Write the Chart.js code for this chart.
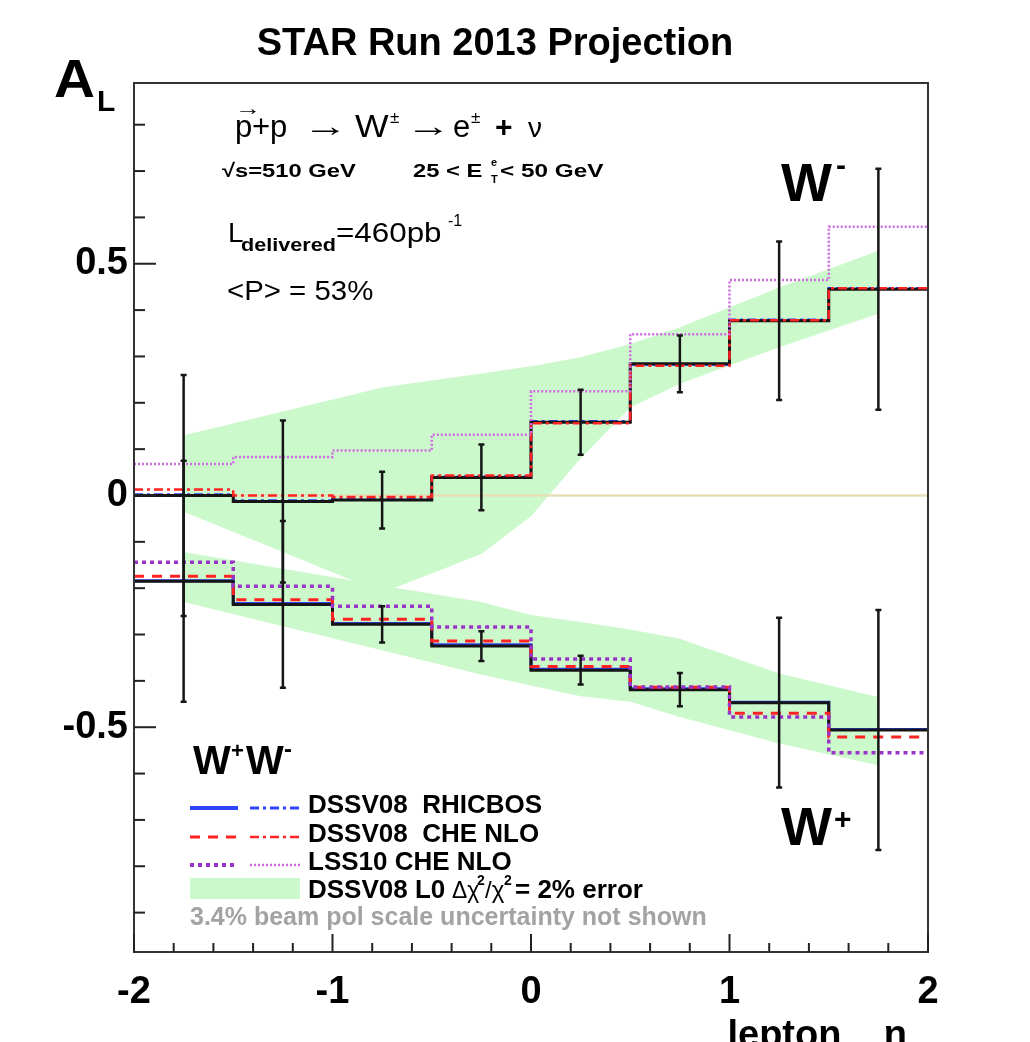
<!DOCTYPE html>
<html><head><meta charset="utf-8">
<script src="https://cdn.jsdelivr.net/npm/chart.js@4/dist/chart.umd.min.js"></script>
<style>html,body{margin:0;padding:0;background:#fff;}canvas{display:block;}</style>
</head><body>
<canvas id="c" width="1030" height="1042"></canvas>
<script>
// ---------- data ----------
const binEdges   = [-2, -1.5, -1, -0.5, 0, 0.5, 1, 1.5, 2];
const binCenters = [-1.75, -1.25, -0.75, -0.25, 0.25, 0.75, 1.25, 1.75];

const wMinusData = [0.000, -0.013, -0.010, 0.039, 0.158, 0.284, 0.377, 0.445];
const wMinusErr  = [0.260, 0.175, 0.061, 0.071, 0.070, 0.061, 0.171, 0.260];
const wPlusData  = [-0.185, -0.235, -0.278, -0.325, -0.377, -0.419, -0.447, -0.506];
const wPlusErr   = [0.260, 0.180, 0.039, 0.032, 0.031, 0.036, 0.183, 0.259];

const rhicbosWMinus = [0.002, -0.011, -0.008, 0.041, 0.160, 0.282, 0.379, 0.447];
const rhicbosWPlus  = [-0.184, -0.233, -0.276, -0.322, -0.375, -0.417, -0.446, -0.505];
const cheWMinus     = [0.013, 0.000, -0.003, 0.043, 0.156, 0.280, 0.378, 0.447];
const cheWPlus      = [-0.174, -0.225, -0.267, -0.314, -0.369, -0.414, -0.470, -0.521];
const lssWMinus     = [0.068, 0.083, 0.097, 0.131, 0.225, 0.348, 0.465, 0.580];
const lssWPlus      = [-0.144, -0.196, -0.239, -0.284, -0.353, -0.413, -0.478, -0.555];

const bandEta       = [-1.75, -1.25, -0.75, -0.25, 0, 0.25, 0.5, 0.75, 1.25, 1.75];
const wMinusBandHi  = [0.130, 0.181, 0.233, 0.263, 0.279, 0.298, 0.327, 0.363, 0.449, 0.528];
const wMinusBandLo  = [-0.035, -0.122, -0.210, -0.126, -0.045, 0.080, 0.190, 0.241, 0.320, 0.392];
const wPlusBandHi   = [-0.122, -0.158, -0.194, -0.230, -0.258, -0.273, -0.289, -0.309, -0.384, -0.435];
const wPlusBandLo   = [-0.230, -0.282, -0.334, -0.387, -0.410, -0.433, -0.445, -0.478, -0.535, -0.582];

const xTickValues = [-2, -1, 0, 1, 2];
const xTickLabels = ['-2', '-1', '0', '1', '2'];
const yTickValues = [-0.5, 0, 0.5];
const yTickLabels = ['-0.5', '0', '0.5'];
const xMinorTicks = [-2, -1.8, -1.6, -1.4, -1.2, -1, -0.8, -0.6, -0.4, -0.2, 0, 0.2, 0.4, 0.6, 0.8, 1, 1.2, 1.4, 1.6, 1.8, 2];
const yMinorTicks = [-0.9, -0.8, -0.7, -0.6, -0.5, -0.4, -0.3, -0.2, -0.1, 0, 0.1, 0.2, 0.3, 0.4, 0.5, 0.6, 0.7, 0.8];

const legendLabels = ['DSSV08  RHICBOS', 'DSSV08  CHE NLO', 'LSS10 CHE NLO'];

// ---------- helpers ----------
const FAM = "'Liberation Sans', Arial, 'DejaVu Sans', sans-serif";
const C_BLUE = '#2f43ff', C_RED = '#ff2222', C_PURP = '#9a33c8', C_PURP2 = '#cf6ae0', C_BAND = '#ccf9cc';

function stepPoints(vals) {
  const pts = vals.map((v, i) => ({ x: binEdges[i], y: v }));
  pts.push({ x: binEdges[binEdges.length - 1], y: vals[vals.length - 1] });
  return pts;
}
function bandPoints(vals) { return vals.map((v, i) => ({ x: bandEta[i], y: v })); }

function stepDS(vals, color, width, dash, order) {
  return { data: stepPoints(vals), borderColor: color, borderWidth: width, borderDash: dash,
           stepped: true, pointRadius: 0, fill: false, order: order };
}

function T(ctx, s, x, y, size, o = {}) {
  ctx.save();
  ctx.font = `${o.weight || 'normal'} ${size}px ${FAM}`;
  ctx.fillStyle = o.color || '#000';
  ctx.textAlign = o.align || 'left';
  ctx.textBaseline = 'alphabetic';
  ctx.translate(x, y);
  ctx.scale(o.sx || 1, 1);
  if (o.maxW) ctx.fillText(s, 0, 0, o.maxW); else ctx.fillText(s, 0, 0);
  ctx.restore();
}

// ---------- plugins ----------
const errorBars = {
  id: 'errorBars',
  afterDatasetsDraw(chart) {
    const { ctx, scales: { x, y } } = chart;
    ctx.save();
    ctx.strokeStyle = '#151515';
    ctx.lineWidth = 2.5;
    [[wMinusData, wMinusErr], [wPlusData, wPlusErr]].forEach(([v, e]) => {
      binCenters.forEach((c, i) => {
        const px = x.getPixelForValue(c);
        const y1 = y.getPixelForValue(v[i] + e[i]);
        const y2 = y.getPixelForValue(v[i] - e[i]);
        ctx.beginPath(); ctx.moveTo(px, y1); ctx.lineTo(px, y2); ctx.stroke();
        ctx.beginPath();
        ctx.moveTo(px - 3, y1); ctx.lineTo(px + 3, y1);
        ctx.moveTo(px - 3, y2); ctx.lineTo(px + 3, y2);
        ctx.stroke();
      });
    });
    ctx.restore();
  }
};

const frameTicks = {
  id: 'frameTicks',
  afterDraw(chart) {
    const { ctx, chartArea: a, scales: { x, y } } = chart;
    ctx.save();
    ctx.strokeStyle = '#333';
    ctx.lineWidth = 2;
    ctx.strokeRect(a.left, a.top, a.right - a.left, a.bottom - a.top);
    ctx.strokeStyle = '#222';
    yMinorTicks.forEach(v => {
      const py = y.getPixelForValue(v);
      const len = yTickValues.includes(v) ? 22 : 11;
      ctx.beginPath(); ctx.moveTo(a.left, py); ctx.lineTo(a.left + len, py); ctx.stroke();
    });
    xMinorTicks.forEach(v => {
      const px = x.getPixelForValue(v);
      const len = xTickValues.includes(v) ? 18 : 9;
      ctx.beginPath(); ctx.moveTo(px, a.bottom); ctx.lineTo(px, a.bottom - len); ctx.stroke();
    });
    ctx.restore();
  }
};

const texts = {
  id: 'texts',
  afterDraw(chart) {
    const ctx = chart.ctx;
    // title and y label
    T(ctx, 'STAR Run 2013 Projection', 495, 55, 38, { weight: 'bold', align: 'center', maxW: 492 });
    T(ctx, 'A', 54, 97, 54, { weight: 'bold', sx: 1.05 });
    T(ctx, 'L', 97, 111, 30, { weight: 'bold' });

    // reaction line
    T(ctx, 'p', 235, 137, 31);
    T(ctx, '→', 235, 115, 20, { sx: 1.3 });
    T(ctx, '+p', 252, 137, 31);
    T(ctx, '→', 303, 136, 30, { sx: 1.5 });
    T(ctx, 'W', 355, 137, 31, { sx: 1.15 });
    T(ctx, '±', 390, 123, 17);
    T(ctx, '→', 406, 136, 30, { sx: 1.5 });
    T(ctx, 'e', 453, 137, 31);
    T(ctx, '±', 471, 123, 17);
    T(ctx, '+', 495, 137, 30, { weight: 'bold' });
    T(ctx, 'ν', 528, 137, 28);

    T(ctx, '√s=510 GeV', 222, 177, 19, { weight: 'bold', sx: 1.25 });
    T(ctx, '25 < E', 413, 177, 19, { weight: 'bold', sx: 1.25 });
    T(ctx, 'e', 491, 166, 11, { weight: 'bold' });
    T(ctx, 'T', 491, 183, 11, { weight: 'bold' });
    T(ctx, '< 50 GeV', 500, 177, 19, { weight: 'bold', sx: 1.28 });

    T(ctx, 'L', 228, 242, 28);
    T(ctx, 'delivered', 241, 251, 18, { weight: 'bold', sx: 1.2 });
    T(ctx, '=460pb', 336, 242, 28, { sx: 1.12 });
    T(ctx, '-1', 448, 226, 16);

    T(ctx, '<P> = 53%', 227, 300, 28, { sx: 1.05 });

    // big labels
    T(ctx, 'W', 781, 201, 54, { weight: 'bold' });
    T(ctx, '-', 836, 175, 30, { weight: 'bold' });
    T(ctx, 'W', 781, 845, 54, { weight: 'bold' });
    T(ctx, '+', 834, 829, 30, { weight: 'bold' });

    // legend header
    T(ctx, 'W', 193, 774, 40, { weight: 'bold' });
    T(ctx, '+', 231, 758, 22, { weight: 'bold' });
    T(ctx, 'W', 246, 774, 40, { weight: 'bold' });
    T(ctx, '-', 284, 757, 24, { weight: 'bold' });

    // legend samples
    const rows = [
      { y: 808, c1: { c: C_BLUE, w: 4, d: [] }, c2: { c: C_BLUE, w: 3, d: [9, 4, 3, 4] } },
      { y: 837, c1: { c: C_RED, w: 3, d: [10, 8] }, c2: { c: C_RED, w: 2.5, d: [9, 4, 3, 4] } },
      { y: 865, c1: { c: C_PURP, w: 4, d: [4, 4] }, c2: { c: C_PURP2, w: 2.5, d: [2, 2] } }
    ];
    rows.forEach((r, i) => {
      [[r.c1, 190, 238], [r.c2, 250, 300]].forEach(([s, x0, x1]) => {
        ctx.save();
        ctx.strokeStyle = s.c; ctx.lineWidth = s.w; ctx.setLineDash(s.d);
        ctx.beginPath(); ctx.moveTo(x0, r.y); ctx.lineTo(x1, r.y); ctx.stroke();
        ctx.restore();
      });
      T(ctx, legendLabels[i], 308, r.y + 5, 26, { weight: 'bold' });
    });
    ctx.save(); ctx.fillStyle = C_BAND; ctx.fillRect(190, 878, 110, 21); ctx.restore();
    T(ctx, 'DSSV08 L0', 308, 898, 26, { weight: 'bold' });
    T(ctx, 'Δχ', 452, 898, 24, { sx: 0.95 });
    T(ctx, '2', 477, 885, 14, { weight: 'bold' });
    T(ctx, '/χ', 485, 898, 24);
    T(ctx, '2', 504, 885, 14, { weight: 'bold' });
    T(ctx, '= 2% error', 515, 898, 26, { weight: 'bold' });
    T(ctx, '3.4% beam pol scale uncertainty not shown', 190, 925, 25, { weight: 'bold', color: '#a3a3a3', maxW: 547 });
  }
};

// ---------- chart ----------
const ctx = document.getElementById('c').getContext('2d');
new Chart(ctx, {
  type: 'line',
  data: {
    datasets: [
      { data: bandPoints(wMinusBandHi), borderWidth: 0, borderColor: 'rgba(0,0,0,0)', backgroundColor: C_BAND, fill: '+1', pointRadius: 0, order: 10 },
      { data: bandPoints(wMinusBandLo), borderWidth: 0, borderColor: 'rgba(0,0,0,0)', pointRadius: 0, fill: false, order: 10 },
      { data: bandPoints(wPlusBandHi), borderWidth: 0, borderColor: 'rgba(0,0,0,0)', backgroundColor: C_BAND, fill: '+1', pointRadius: 0, order: 10 },
      { data: bandPoints(wPlusBandLo), borderWidth: 0, borderColor: 'rgba(0,0,0,0)', pointRadius: 0, fill: false, order: 10 },
      { data: [{ x: -2, y: 0 }, { x: 2, y: 0 }], borderColor: '#e6dfb6', borderWidth: 2.5, pointRadius: 0, fill: false, order: 11 },
      stepDS(rhicbosWMinus, C_BLUE, 2.5, [9, 4, 3, 4], 5),
      stepDS(rhicbosWPlus, C_BLUE, 3, [], 5),
      stepDS(wMinusData, '#151515', 3, [], 4),
      stepDS(wPlusData, '#151515', 3, [], 4),
      stepDS(cheWMinus, C_RED, 2.5, [9, 4, 3, 4], 3),
      stepDS(cheWPlus, C_RED, 3, [10, 8], 3),
      stepDS(lssWMinus, C_PURP2, 2.5, [2, 2], 2),
      stepDS(lssWPlus, C_PURP, 3.5, [4, 4], 2)
    ]
  },
  options: {
    responsive: false,
    animation: false,
    devicePixelRatio: 1,
    layout: { padding: { left: 0, right: 102, top: 83, bottom: 0 } },
    plugins: {
      legend: { display: false },
      tooltip: { enabled: false },
      title: { display: false },
      filler: { propagate: false, drawTime: 'beforeDatasetsDraw' }
    },
    elements: { line: { tension: 0 }, point: { radius: 0 } },
    scales: {
      x: {
        type: 'linear', min: -2, max: 2,
        afterBuildTicks: s => { s.ticks = xTickValues.map(v => ({ value: v })); },
        afterFit: s => { s.height = 90; },
        grid: { display: false, drawTicks: false },
        border: { display: false },
        ticks: {
          color: '#000', padding: 18, maxRotation: 0, autoSkip: false,
          font: { family: FAM, size: 38, weight: 'bold' },
          callback: v => { const i = xTickValues.indexOf(v); return i >= 0 ? xTickLabels[i] : ''; }
        },
        title: {
          display: true, align: 'end', text: 'lepton    η  ', color: '#000',
          font: { family: FAM, size: 38, weight: 'bold', lineHeight: 1 },
          padding: { top: 0, bottom: -14 }
        }
      },
      y: {
        type: 'linear', min: -0.985, max: 0.89,
        afterBuildTicks: s => { s.ticks = yTickValues.map(v => ({ value: v })); },
        afterFit: s => { s.width = 134; },
        grid: { display: false, drawTicks: false },
        border: { display: false },
        ticks: {
          color: '#000', padding: 6, autoSkip: false,
          font: { family: FAM, size: 38, weight: 'bold' },
          callback: v => { const i = yTickValues.indexOf(v); return i >= 0 ? yTickLabels[i] : ''; }
        }
      }
    }
  },
  plugins: [errorBars, frameTicks, texts]
});
</script>
</body></html>
